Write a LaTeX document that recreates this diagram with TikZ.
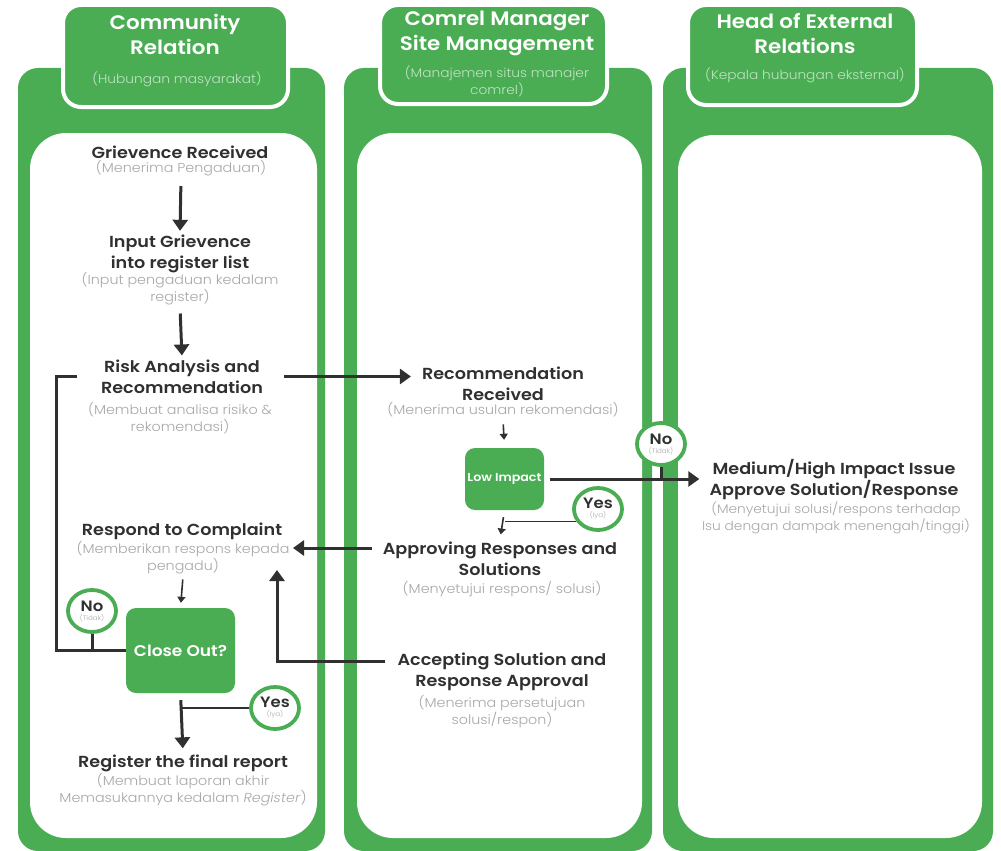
\documentclass[tikz,border=0pt]{standalone}
\usepackage{fontspec}
\setmainfont{Poppins}[BoldFont={Poppins SemiBold}, FakeStretch=1.1]
\newfontfamily\lightf{Poppins Light}[FakeStretch=1.1]
\usetikzlibrary{arrows.meta,shapes.geometric}
\definecolor{grn}{HTML}{4AAD54}
\definecolor{ink}{HTML}{303030}
\definecolor{subg}{HTML}{A8A8A8}
\definecolor{hsub}{HTML}{BFE3C2}
\newcommand\bn[2]{{\bfseries\fontsize{15}{15}\selectfont #1}\\[-3pt]{\lightf\color{subg}\fontsize{6.5}{6.5}\selectfont(#2)}}
\begin{document}
\begin{tikzpicture}[x=1pt,y=-1pt,
 lane/.style={fill=grn, rounded corners=20pt},
 inner/.style={fill=white, rounded corners=36pt},
 tab/.style={fill=grn, draw=white, line width=4pt, rounded corners=18pt},
 htitle/.style={text=white, font=\fontsize{19.5}{25}\selectfont\bfseries, align=center, inner sep=0pt},
 hsubt/.style={text=hsub, font=\lightf\fontsize{12.5}{16.5}\selectfont, align=center, inner sep=0pt},
 ttl/.style={text=ink, font=\fontsize{16}{21}\selectfont\bfseries, align=center, inner sep=2pt},
 sub/.style={text=subg, font=\lightf\fontsize{13}{17}\selectfont, align=center, inner sep=2pt},
 dec/.style={fill=grn, rounded corners=10pt, text=white, align=center, inner sep=0pt},
 badge/.style={ellipse, draw=grn, fill=white, line width=3.8pt, minimum width=48pt, minimum height=42pt, inner sep=0pt, align=center, text=ink},
 arr/.style={draw=ink, line width=3pt, -{Triangle[length=11pt,width=15pt]}},
 tarr/.style={draw=ink, line width=1.6pt, -{Triangle[length=6pt,width=8pt]}},
 ln/.style={draw=ink, line width=3pt},
 tln/.style={draw=ink, line width=1.6pt},
]
\useasboundingbox (0,0) rectangle (1001,851);
\clip (0,0) rectangle (1001,851);
\fill[white] (0,0) rectangle (1001,851);
% lanes
\path[lane] (18,68) rectangle (325,851);
\path[lane] (344,68) rectangle (652,851);
\path[lane] (663,68) rectangle (993,851);
% inner panels
\path[inner] (30,133) rectangle (317,838);
\path[inner] (357,133) rectangle (642,838);
\path[inner] (678,135) rectangle (982,838);
% tabs
\node[tab, minimum width=225pt, minimum height=102pt] (tab1) at (175.5,56) {};
\node[tab, minimum width=227pt, minimum height=99pt] (tab2) at (493.5,54.5) {};
\node[tab, minimum width=229pt, minimum height=100pt] (tab3) at (802.5,55) {};
\node[htitle] (h1) at (175,34.5) {Community\\Relation};
\node[hsubt] (h1s) at (177,79) {(Hubungan masyarakat)};
\node[htitle] (h2) at (497,33) {Comrel Manager\\Site Management};
\node[hsubt] (h2s) at (497,81.5) {(Manajemen situs manajer\\comrel)};
\node[htitle] (h3) at (805,33) {Head of External\\Relations};
\node[hsubt] (h3s) at (805,75) {(Kepala hubungan eksternal)};
% lane 1 steps
\node[ttl] (gr) at (180,152) {Grievence Received};
\node[sub] (grs) at (181,168) {(Menerima Pengaduan)};
\node[ttl] (ig) at (180,254) {Input Grievence\\into register list};
\node[sub] (igs) at (180,289) {(Input pengaduan kedalam\\register)};
\node[ttl] (ra) at (182,376.5) {Risk Analysis and\\Recommendation};
\node[sub] (ras) at (180,418.5) {(Membuat analisa risiko \&\\rekomendasi)};
\node[ttl] (rc) at (182,531) {Respond to Complaint};
\node[sub] (rcs) at (183,558) {(Memberikan respons kepada\\pengadu)};
\node[dec, minimum width=109pt, minimum height=85pt, font=\fontsize{15.5}{17}\selectfont\bfseries] (co) at (180.5,650.5) {Close Out?};
\node[ttl] (rf) at (183,763) {Register the final report};
\node[sub] (rfs) at (183,789.5) {(Membuat laporan akhir\\Memasukannya kedalam \textit{Register})};
% lane 2 steps
\node[ttl] (rr) at (503,383.5) {Recommendation\\Received};
\node[sub] (rrs) at (503,410) {(Menerima usulan rekomendasi)};
\node[dec, minimum width=79pt, minimum height=62pt, font=\fontsize{11.5}{13}\selectfont\bfseries] (li) at (504.5,479) {Low Impact};
\node[ttl] (ap) at (500,558.5) {Approving Responses and\\Solutions};
\node[sub] (aps) at (502,589) {(Menyetujui respons/ solusi)};
\node[ttl] (ac) at (502,672) {Accepting Solution and\\Response Approval};
\node[sub] (acs) at (502,711.5) {(Menerima persetujuan\\solusi/respon)};
% lane 3 step
\node[ttl] (mh) at (834,479.5) {Medium/High Impact Issue\\Approve Solution/Response};
\node[sub, font=\lightf\fontsize{12.5}{16.5}\selectfont] (mhs) at (836,518) {(Menyetujui solusi/respons terhadap\\Isu dengan dampak menengah/tinggi)};
% badges
\node[badge] (no1) at (92,611) {\bn{No}{Tidak}};
\node[badge] (no2) at (661,444) {\bn{No}{Tidak}};
\node[badge] (yes1) at (598,509) {\bn{Yes}{Iya}};
\node[badge] (yes2) at (275,708) {\bn{Yes}{Iya}};
% free ends
\coordinate (lp) at (56,376);
\coordinate (rcin) at (293,548);
\coordinate (acend) at (277,570);
% connectors
\draw[arr, shorten <=8pt, shorten >=2pt] (grs.south) -- (ig.north);
\draw[arr, shorten <=6pt, shorten >=2pt] (igs.south) -- (ra.north);
\draw[ln, shorten <=22pt] (ra.west) -- (ra.west -| lp) -- (co.west -| lp) -- (co.west);
\draw[ln] (no1.south) -- (no1.south |- co.west);
\draw[arr, shorten <=19pt, shorten >=9pt] (ra.east) -- (ra.east -| rr.west);
\draw[tarr, shorten <=5pt, shorten >=8pt] (rrs.south) -- (li.north);
\draw[arr, shorten <=6pt, shorten >=8pt] (li.east) -- (li.east -| mh.west);
\draw[ln] (no2.south) -- (no2.south |- li.east);
\draw[tln] (yes1.210) -- (yes1.210 -| li.south);
\draw[tarr, shorten <=7pt, shorten >=5pt] (li.south) -- (ap.north);
\draw[arr, shorten <=9pt] ([yshift=10.5pt]ap.west) -- (rcin);
\draw[arr] ([xshift=-10pt,yshift=11pt]ac.west) -| (acend);
\draw[tarr, shorten <=3pt, shorten >=5pt] (rcs.south) -- (co.north);
\draw[arr, shorten <=7pt, shorten >=4pt] (co.south) -- (rf.north);
\draw[tln] (yes2.west) -- (yes2.west -| co.south);
\end{tikzpicture}
\end{document}
